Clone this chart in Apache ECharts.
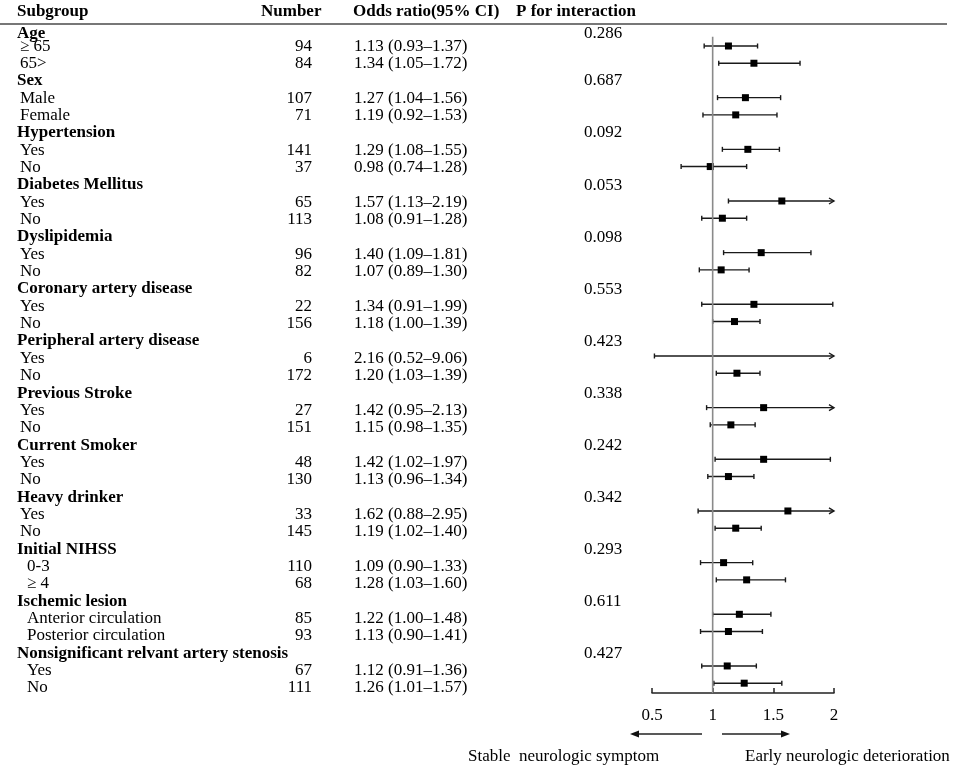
<!DOCTYPE html>
<html>
<head>
<meta charset="utf-8">
<script src="https://cdn.jsdelivr.net/npm/echarts@6/dist/echarts.min.js"></script>
<style>
  html, body { margin: 0; padding: 0; background: #fff; }
  #chart { width: 957px; height: 772px; }
</style>
</head>
<body>
<div id="chart"></div>
<script>
// table data
const groups = ["Age", "Sex", "Hypertension", "Diabetes Mellitus", "Dyslipidemia",
  "Coronary artery disease", "Peripheral artery disease", "Previous Stroke",
  "Current Smoker", "Heavy drinker", "Initial NIHSS", "Ischemic lesion",
  "Nonsignificant relvant artery stenosis"];
const pInteraction = ["0.286", "0.687", "0.092", "0.053", "0.098", "0.553", "0.423",
  "0.338", "0.242", "0.342", "0.293", "0.611", "0.427"];
const subgroups = [["\u2265 65", "65>"], ["Male", "Female"], ["Yes", "No"], ["Yes", "No"],
  ["Yes", "No"], ["Yes", "No"], ["Yes", "No"], ["Yes", "No"], ["Yes", "No"], ["Yes", "No"],
  ["0-3", "\u2265 4"], ["Anterior circulation", "Posterior circulation"], ["Yes", "No"]];
const numbers = [[94, 84], [107, 71], [141, 37], [65, 113], [96, 82], [22, 156], [6, 172],
  [27, 151], [48, 130], [33, 145], [110, 68], [85, 93], [67, 111]];
const oddsRatio = [[1.13, 1.34], [1.27, 1.19], [1.29, 0.98], [1.57, 1.08], [1.40, 1.07],
  [1.34, 1.18], [2.16, 1.20], [1.42, 1.15], [1.42, 1.13], [1.62, 1.19], [1.09, 1.28],
  [1.22, 1.13], [1.12, 1.26]];
const ciLow = [[0.93, 1.05], [1.04, 0.92], [1.08, 0.74], [1.13, 0.91], [1.09, 0.89],
  [0.91, 1.00], [0.52, 1.03], [0.95, 0.98], [1.02, 0.96], [0.88, 1.02], [0.90, 1.03],
  [1.00, 0.90], [0.91, 1.01]];
const ciHigh = [[1.37, 1.72], [1.56, 1.53], [1.55, 1.28], [2.19, 1.28], [1.81, 1.30],
  [1.99, 1.39], [9.06, 1.39], [2.13, 1.35], [1.97, 1.34], [2.95, 1.40], [1.33, 1.60],
  [1.48, 1.41], [1.36, 1.57]];
const xTicks = [0.5, 1, 1.5, 2];

const FONT = "'Liberation Serif', 'Times New Roman', serif";
const FS = 17;
const AXIS_MAX = 2;
// the last three groups are indented a bit deeper in the original table
const DEEP_INDENT_FROM = 10;

// flatten into rows: header rows and subgroup rows
const tableRows = [];
const ciRows = [];
groups.forEach((g, gi) => {
  tableRows.push({ row: tableRows.length, header: true, label: g, p: pInteraction[gi] });
  for (let k = 0; k < 2; k++) {
    const r = tableRows.length;
    const or = oddsRatio[gi][k], lo = ciLow[gi][k], hi = ciHigh[gi][k];
    tableRows.push({
      row: r, header: false, group: gi, label: subgroups[gi][k], n: numbers[gi][k],
      ci: or.toFixed(2) + " (" + lo.toFixed(2) + "\u2013" + hi.toFixed(2) + ")"
    });
    ciRows.push([lo, hi, or, r]);
  }
});

function txt(x, y, s, opts) {
  return {
    type: "text", x: x, y: y,
    style: Object.assign({
      text: s, fill: "#000", fontFamily: FONT, fontSize: FS,
      verticalAlign: "middle", align: "left"
    }, opts || {})
  };
}

const chart = echarts.init(document.getElementById("chart"));

const option = {
  backgroundColor: "#fff",
  animation: false,
  grid: [
    { left: 652, width: 182, top: 25, height: 668 },
    { left: 0, right: 0, top: 0, bottom: 0 }
  ],
  xAxis: [
    {
      gridIndex: 0, type: "value", min: 0.5, max: AXIS_MAX, interval: 0.5,
      splitLine: { show: false },
      axisLine: { onZero: false, lineStyle: { color: "#222", width: 1.5 } },
      axisTick: { inside: true, length: 5, lineStyle: { color: "#222", width: 1.5 } },
      axisLabel: {
        margin: 14, color: "#000", fontFamily: FONT, fontSize: FS,
        formatter: v => (xTicks.indexOf(v) >= 0 ? String(v) : "")
      }
    },
    { gridIndex: 1, type: "value", min: 0, max: 957, show: false }
  ],
  yAxis: [
    { gridIndex: 0, type: "value", inverse: true, min: -0.22, max: 38.57, show: false },
    { gridIndex: 1, type: "value", inverse: true, min: -1.672, max: 42.85, show: false }
  ],
  graphic: [
    { type: "line", shape: { x1: 0, y1: 24, x2: 947, y2: 24 },
      style: { stroke: "#777", lineWidth: 1.8 } },
    { type: "line", shape: { x1: 702, y1: 734, x2: 638, y2: 734 },
      style: { stroke: "#222", lineWidth: 1.5 } },
    { type: "polygon", shape: { points: [[630, 734], [639, 730.5], [639, 737.5]] },
      style: { fill: "#111" } },
    { type: "line", shape: { x1: 722, y1: 734, x2: 782, y2: 734 },
      style: { stroke: "#222", lineWidth: 1.5 } },
    { type: "polygon", shape: { points: [[790, 734], [781, 730.5], [781, 737.5]] },
      style: { fill: "#111" } },
    { type: "text", x: 468, y: 757,
      style: { text: "Stable  neurologic symptom", fill: "#000", fontFamily: FONT,
        fontSize: FS, verticalAlign: "middle" } },
    { type: "text", x: 745, y: 757,
      style: { text: "Early neurologic deterioration", fill: "#000", fontFamily: FONT,
        fontSize: FS, verticalAlign: "middle" } }
  ],
  series: [
    {
      // reference line at OR = 1
      type: "line", xAxisIndex: 0, yAxisIndex: 0, symbol: "none", silent: true,
      data: [[1, 0.46], [1, 38.57]],
      lineStyle: { color: "#8a8a8a", width: 1.6 }
    },
    {
      // confidence intervals and point estimates
      type: "custom", xAxisIndex: 0, yAxisIndex: 0, clip: false,
      data: ciRows,
      renderItem: function (params, api) {
        const lo = api.value(0), hi = api.value(1), or = api.value(2), r = api.value(3);
        const p0 = api.coord([lo, r]);
        const p1 = api.coord([Math.min(hi, AXIS_MAX), r]);
        const y = p0[1];
        const st = { stroke: "#1a1a1a", lineWidth: 1.4 };
        const kids = [
          { type: "line", shape: { x1: p0[0], y1: y, x2: p1[0], y2: y }, style: st },
          { type: "line", shape: { x1: p0[0], y1: y - 2.5, x2: p0[0], y2: y + 2.5 }, style: st }
        ];
        if (hi > AXIS_MAX) {
          kids.push({ type: "polyline",
            shape: { points: [[p1[0] - 5, y - 3], [p1[0], y], [p1[0] - 5, y + 3]] },
            style: { stroke: "#1a1a1a", lineWidth: 1.4, fill: null } });
        } else {
          kids.push({ type: "line", shape: { x1: p1[0], y1: y - 2.5, x2: p1[0], y2: y + 2.5 }, style: st });
        }
        if (or <= AXIS_MAX) {
          const c = api.coord([or, r]);
          kids.push({ type: "rect", shape: { x: c[0] - 3.5, y: y - 3.5, width: 7, height: 7 },
            style: { fill: "#000" } });
        }
        return { type: "group", children: kids };
      }
    },
    {
      // table text
      type: "custom", xAxisIndex: 1, yAxisIndex: 1, clip: false, silent: true,
      data: tableRows.map(r => [r.row]),
      renderItem: function (params, api) {
        const r = tableRows[params.dataIndex];
        let y = api.coord([0, r.row])[1];
        if (r.row === 0) y += 5; // first header sits a little lower under the rule
        const kids = [];
        if (params.dataIndex === 0) {
          const hy = api.coord([0, -1])[1];
          kids.push(txt(17, hy, "Subgroup", { fontWeight: "bold" }));
          kids.push(txt(261, hy, "Number", { fontWeight: "bold" }));
          kids.push(txt(353, hy, "Odds ratio(95% CI)", { fontWeight: "bold" }));
          kids.push(txt(516, hy, "P for interaction", { fontWeight: "bold" }));
        }
        if (r.header) {
          kids.push(txt(17, y, r.label, { fontWeight: "bold" }));
          kids.push(txt(584, y, r.p));
        } else {
          const ix = r.group >= DEEP_INDENT_FROM ? 27 : 20;
          kids.push(txt(ix, y, r.label));
          kids.push(txt(312, y, String(r.n), { align: "right" }));
          kids.push(txt(354, y, r.ci));
        }
        return { type: "group", children: kids };
      }
    }
  ]
};

chart.setOption(option);
</script>
</body>
</html>
